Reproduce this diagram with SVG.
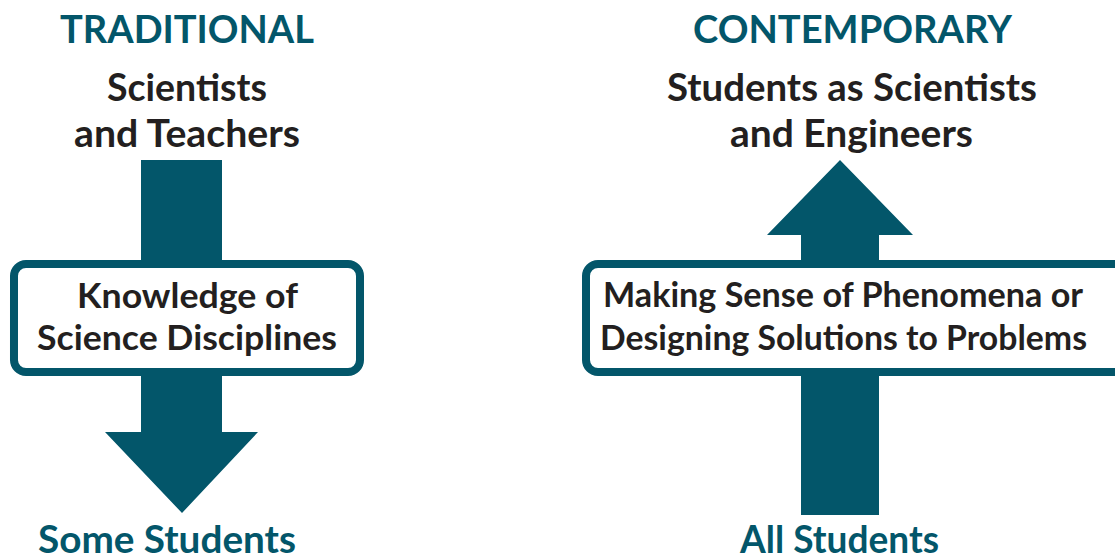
<svg xmlns="http://www.w3.org/2000/svg" width="1115" height="560" viewBox="0 0 1115 560">
<style>
text{font-family:Lato,"Open Sans","Liberation Sans",sans-serif;font-weight:bold;text-anchor:middle}
.h{fill:#03566a;font-size:38px}
.d{fill:#231f20;font-size:38px}
.b{fill:#231f20;font-size:35px}
.box{fill:#fff;stroke:#03566a;stroke-width:8}
.arr{fill:#03566a}
</style>
<rect width="1115" height="560" fill="#fff"/>
<g id="connectors">
<polygon id="arrow-left" class="arr" points="141,160 222,160 222,432 258,432 182,513 105,432 141,432"/>
<polygon id="arrow-right" class="arr" points="840,160 913,235 879,235 879,515 801,515 801,235 767,235"/>
</g>
<g id="traditional-title"><text class="h" x="187" y="43" textLength="254" lengthAdjust="spacingAndGlyphs">TRADITIONAL</text></g>
<g id="scientists-teachers">
<text class="d" x="187" y="101" textLength="160" lengthAdjust="spacingAndGlyphs">Scientists</text>
<text class="d" x="187" y="147" textLength="226" lengthAdjust="spacingAndGlyphs">and Teachers</text>
</g>
<g id="knowledge-box">
<rect class="box" x="14" y="264" width="346" height="108" rx="12"/>
<text class="b" x="187.5" y="308" textLength="221" lengthAdjust="spacingAndGlyphs">Knowledge of</text>
<text class="b" x="187" y="350" textLength="300" lengthAdjust="spacingAndGlyphs">Science Disciplines</text>
</g>
<g id="some-students"><text class="h" x="167" y="553" textLength="258" lengthAdjust="spacingAndGlyphs">Some Students</text></g>
<g id="contemporary-title"><text class="h" x="852.5" y="43" textLength="319" lengthAdjust="spacingAndGlyphs">CONTEMPORARY</text></g>
<g id="students-scientists">
<text class="d" x="852" y="101" textLength="370" lengthAdjust="spacingAndGlyphs">Students as Scientists</text>
<text class="d" x="851.5" y="147" textLength="243" lengthAdjust="spacingAndGlyphs">and Engineers</text>
</g>
<g id="sense-box">
<rect class="box" x="586" y="264" width="560" height="108" rx="12"/>
<text class="b" x="843" y="307" textLength="480" lengthAdjust="spacingAndGlyphs">Making Sense of Phenomena or</text>
<text class="b" x="843.5" y="350" textLength="487" lengthAdjust="spacingAndGlyphs">Designing Solutions to Problems</text>
</g>
<g id="all-students"><text class="h" x="839.5" y="553" textLength="199" lengthAdjust="spacingAndGlyphs">All Students</text></g>
</svg>
